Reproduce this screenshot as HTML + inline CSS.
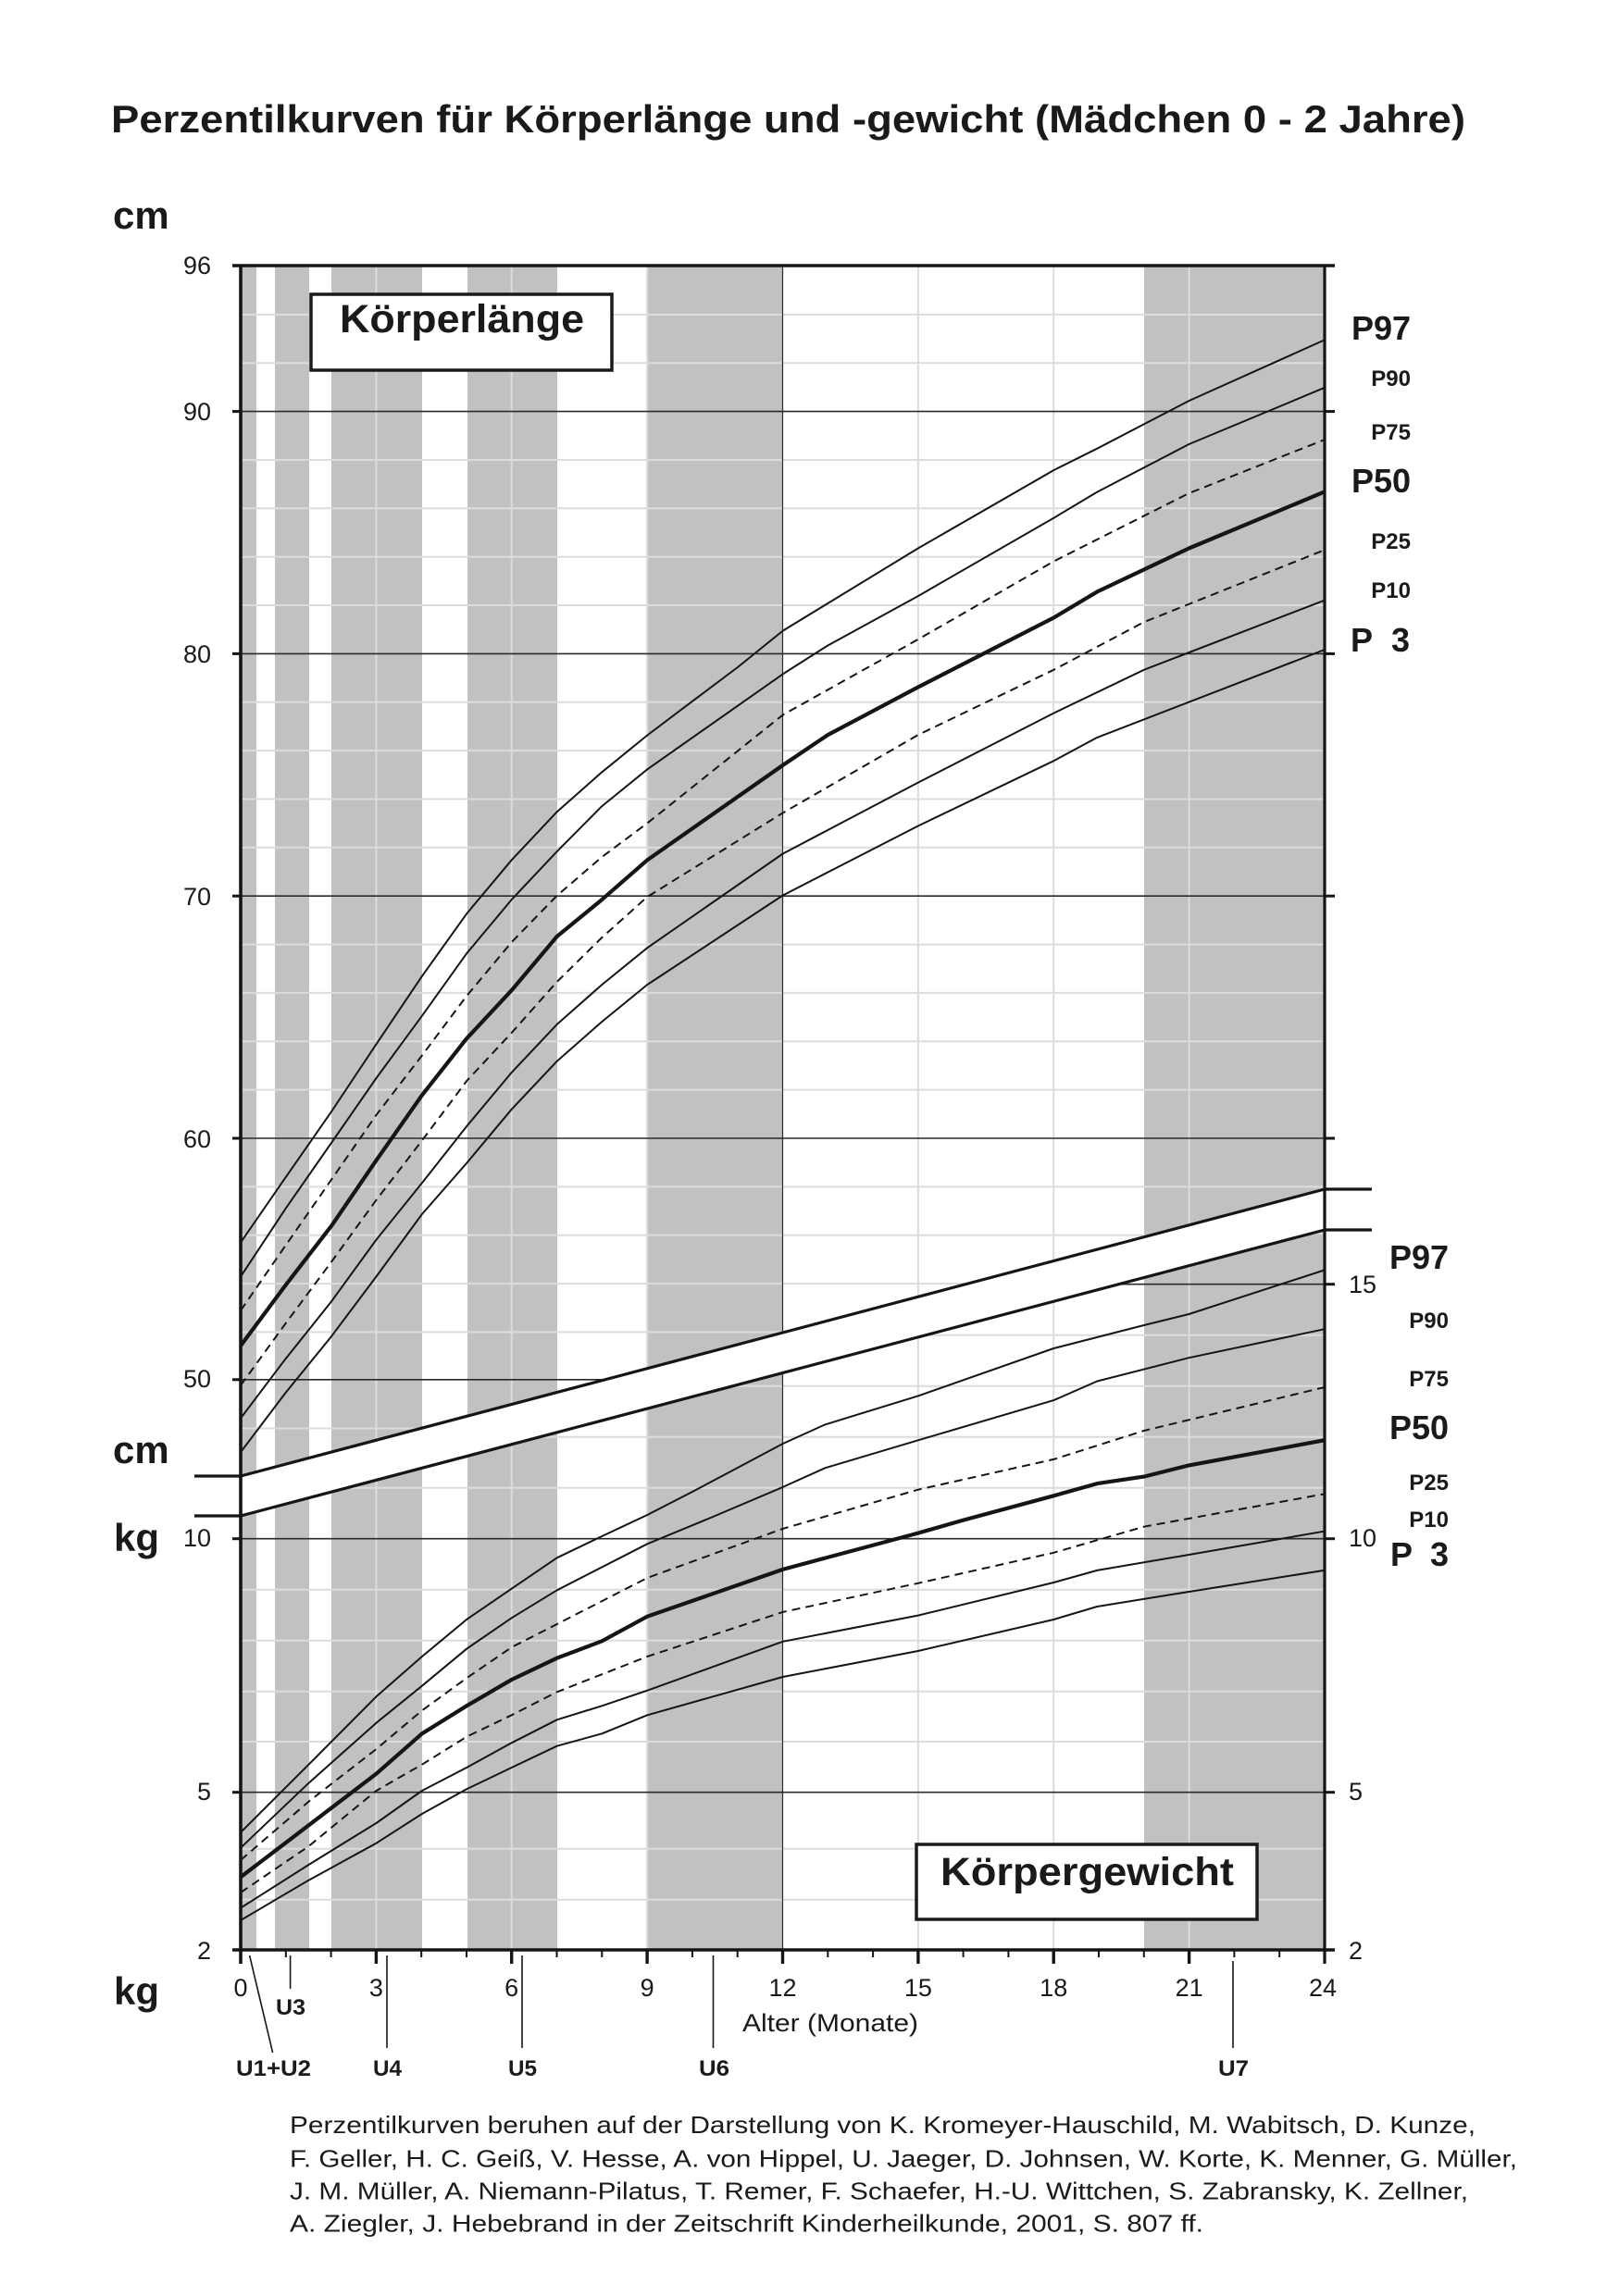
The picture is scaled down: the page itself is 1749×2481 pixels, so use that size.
<!DOCTYPE html>
<html>
<head>
<meta charset="utf-8">
<style>
html,body{margin:0;padding:0;background:#fff;}
svg{display:block;}
text{font-family:"Liberation Sans", Arial, sans-serif;fill:#1a1a1a;}
.b{font-weight:bold;}
</style>
</head>
<body>
<svg width="1749" height="2481" viewBox="0 0 1749 2481" xmlns="http://www.w3.org/2000/svg">
<defs>
<clipPath id="cmc"><polygon points="260,287 1431,287 1431,1285 260,1595"/></clipPath>
<clipPath id="kgc"><polygon points="260,1638 1431,1329 1431,2107 260,2107"/></clipPath>
</defs>
<rect x="0" y="0" width="1749" height="2481" fill="#fff"/>

<!-- Title -->
<text class="b" x="120" y="143" font-size="42" textLength="1463" lengthAdjust="spacingAndGlyphs">Perzentilkurven für Körperlänge und -gewicht (Mädchen 0 - 2 Jahre)</text>

<!-- gray bands -->
<g fill="#c1c1c2">
<rect x="260" y="287" width="17" height="1820"/>
<rect x="297" y="287" width="37" height="1820"/>
<rect x="358" y="287" width="98" height="1820"/>
<rect x="505" y="287" width="97" height="1820"/>
<rect x="699" y="287" width="146" height="1820"/>
<rect x="1236" y="287" width="195" height="1820"/>
</g>
<!-- white band between sections -->
<polygon points="260,1595 1431,1285 1431,1329 260,1638" fill="#fff"/>

<!-- light grid cm -->
<g clip-path="url(#cmc)" stroke="#dcdcdc" stroke-width="2">
<line x1="260" x2="1431" y1="339.9" y2="339.9"/>
<line x1="260" x2="1431" y1="392.2" y2="392.2"/>
<line x1="260" x2="1431" y1="497.0" y2="497.0"/>
<line x1="260" x2="1431" y1="549.3" y2="549.3"/>
<line x1="260" x2="1431" y1="601.7" y2="601.7"/>
<line x1="260" x2="1431" y1="654.0" y2="654.0"/>
<line x1="260" x2="1431" y1="758.8" y2="758.8"/>
<line x1="260" x2="1431" y1="811.1" y2="811.1"/>
<line x1="260" x2="1431" y1="863.5" y2="863.5"/>
<line x1="260" x2="1431" y1="915.8" y2="915.8"/>
<line x1="260" x2="1431" y1="1020.6" y2="1020.6"/>
<line x1="260" x2="1431" y1="1072.9" y2="1072.9"/>
<line x1="260" x2="1431" y1="1125.3" y2="1125.3"/>
<line x1="260" x2="1431" y1="1177.6" y2="1177.6"/>
<line x1="260" x2="1431" y1="1282.4" y2="1282.4"/>
<line x1="260" x2="1431" y1="1334.7" y2="1334.7"/>
<line x1="260" x2="1431" y1="1387.1" y2="1387.1"/>
<line x1="260" x2="1431" y1="1439.4" y2="1439.4"/>
<line x1="260" x2="1431" y1="1543.5" y2="1543.5"/>
<line x1="406.4" x2="406.4" y1="287" y2="1600"/>
<line x1="552.7" x2="552.7" y1="287" y2="1600"/>
<line x1="699.1" x2="699.1" y1="287" y2="1600"/>
<line x1="991.9" x2="991.9" y1="287" y2="1600"/>
<line x1="1138.2" x2="1138.2" y1="287" y2="1600"/>
<line x1="1284.6" x2="1284.6" y1="287" y2="1600"/>
</g>
<!-- light grid kg -->
<g clip-path="url(#kgc)" stroke="#dcdcdc" stroke-width="2">
<line x1="260" x2="1431" y1="1332.7" y2="1332.7"/>
<line x1="260" x2="1431" y1="1442.7" y2="1442.7"/>
<line x1="260" x2="1431" y1="1497.7" y2="1497.7"/>
<line x1="260" x2="1431" y1="1552.7" y2="1552.7"/>
<line x1="260" x2="1431" y1="1607.7" y2="1607.7"/>
<line x1="260" x2="1431" y1="1717.7" y2="1717.7"/>
<line x1="260" x2="1431" y1="1772.7" y2="1772.7"/>
<line x1="260" x2="1431" y1="1827.7" y2="1827.7"/>
<line x1="260" x2="1431" y1="1882.0" y2="1882.0"/>
<line x1="260" x2="1431" y1="1997.7" y2="1997.7"/>
<line x1="260" x2="1431" y1="2052.7" y2="2052.7"/>
<line x1="406.4" x2="406.4" y1="1300" y2="2107"/>
<line x1="552.7" x2="552.7" y1="1300" y2="2107"/>
<line x1="699.1" x2="699.1" y1="1300" y2="2107"/>
<line x1="991.9" x2="991.9" y1="1300" y2="2107"/>
<line x1="1138.2" x2="1138.2" y1="1300" y2="2107"/>
<line x1="1284.6" x2="1284.6" y1="1300" y2="2107"/>
</g>

<!-- dark grid -->
<g clip-path="url(#cmc)" stroke="#2a2a2a" stroke-width="1.6">
<line x1="260" x2="1431" y1="444.6" y2="444.6"/>
<line x1="260" x2="1431" y1="706.4" y2="706.4"/>
<line x1="260" x2="1431" y1="968.2" y2="968.2"/>
<line x1="260" x2="1431" y1="1230.0" y2="1230.0"/>
<line x1="260" x2="1431" y1="1490.8" y2="1490.8"/>
<line x1="845.5" x2="845.5" y1="287" y2="1600" stroke-width="1.2"/>
</g>
<g clip-path="url(#kgc)" stroke="#2a2a2a" stroke-width="1.6">
<line x1="260" x2="1431" y1="1387.7" y2="1387.7"/>
<line x1="260" x2="1431" y1="1662.7" y2="1662.7"/>
<line x1="260" x2="1431" y1="1936.7" y2="1936.7"/>
<line x1="845.5" x2="845.5" y1="1300" y2="2107" stroke-width="1.2"/>
</g>

<!-- label boxes -->
<rect x="336" y="318" width="325" height="82" fill="#fff" stroke="#1a1a1a" stroke-width="3.5"/>
<text class="b" x="367" y="359" font-size="43" textLength="264" lengthAdjust="spacingAndGlyphs">Körperlänge</text>
<rect x="990" y="1993" width="368" height="81" fill="#fff" stroke="#1a1a1a" stroke-width="3.5"/>
<text class="b" x="1016" y="2037" font-size="43" textLength="317" lengthAdjust="spacingAndGlyphs">Körpergewicht</text>

<!-- length curves -->
<g clip-path="url(#cmc)" fill="none" stroke="#151515" stroke-linejoin="round">
<polyline stroke-width="2" points="260,1342.6 308.6,1272.2 357.6,1201.8 406.5,1128.3 455.9,1054.8 504.1,987.4 552.7,929.3 601.7,877.2 650.3,834.3 699.3,794.5 747.9,757.8 796.9,721.0 845.7,681.6 991.8,592.5 1138.3,508.1 1185.3,484.7 1235.8,458.4 1284.4,433.1 1430.5,367.5"/>
<polyline stroke-width="2" points="260,1379.4 308.6,1305.9 357.6,1235.5 406.5,1165.0 455.9,1097.7 504.1,1030.3 552.7,972.1 601.7,920.1 650.3,871.1 699.3,831.3 845.7,728.4 894.3,697.5 991.8,644.1 1138.3,559.7 1185.3,531.6 1284.4,480.0 1430.5,419.1"/>
<polyline stroke-width="2" stroke-dasharray="9,6" points="260,1416.1 308.6,1345.7 357.6,1275.3 406.5,1204.8 455.9,1140.5 504.1,1076.2 552.7,1018.1 601.7,967.8 650.3,926 699.3,889.5 845.7,772.5 991.8,690.9 1138.3,606.6 1284.4,533 1430.5,475.3"/>
<polyline stroke-width="4.2" points="260,1454.1 308.6,1388.6 358.3,1324.3 406.5,1253.8 455.9,1183.4 504.1,1122.2 552.7,1070.1 601.7,1011.9 650.3,972.1 699.3,929.3 845.7,826.9 894.3,794.1 991.8,742.5 1138.3,667.5 1185.3,639.4 1284.4,592.5 1430.5,531.6"/>
<polyline stroke-width="2" stroke-dasharray="9,6" points="260,1497.0 308.6,1430 357.6,1364.1 406.5,1296.7 455.9,1232.4 504.1,1168.1 552.7,1116.0 601.7,1060.9 650.3,1013 699.3,969.1 845.7,878.4 991.8,794.1 1138.3,723.8 1235.8,672.2 1430.5,594.4"/>
<polyline stroke-width="2" points="260,1532.5 308.6,1468.2 357.6,1406.9 406.5,1339.6 455.9,1278.3 504.1,1217.1 552.7,1158.9 601.7,1106.9 650.3,1064 699.3,1024.2 845.7,922.5 991.8,845.6 1138.3,770.6 1235.8,723.8 1430.5,648.8"/>
<polyline stroke-width="2" points="260,1569.2 308.6,1504.9 358.3,1443.7 406.5,1379.4 455.9,1312.0 504.1,1256.9 552.7,1198.7 601.7,1146.7 650.3,1104 699.3,1064.0 845.7,967.5 991.8,892.5 1138.3,822.2 1185.3,796.9 1430.5,702.2"/>
</g>

<!-- weight curves -->
<g clip-path="url(#kgc)" fill="none" stroke="#151515" stroke-linejoin="round">
<polyline stroke-width="2" points="260,1980 333.5,1906.7 406.5,1833.3 455.9,1790 504.1,1750 552.7,1716.7 601.7,1683.3 650.3,1660 699.3,1637 747.9,1612 796.9,1586 845.7,1560 891.2,1539.4 991.8,1508.4 1138.3,1457 1235.8,1432 1284.4,1420 1430.5,1372.5"/>
<polyline stroke-width="2" points="260,1996.7 333.5,1926.7 406.5,1861.7 455.9,1821.7 504.1,1781.7 552.7,1748.3 601.7,1718.3 699.3,1668.3 767.8,1640 845.7,1606.9 891.2,1586.3 991.8,1556.3 1138.3,1513.1 1185.3,1492.5 1284.4,1467.2 1430.5,1436.3"/>
<polyline stroke-width="2" stroke-dasharray="9,6" points="260,2010 333.5,1946.7 406.5,1890 455.9,1848.3 504.1,1813.3 552.7,1780 601.7,1755 699.3,1705 845.7,1651.9 991.8,1609.7 1138.3,1576.9 1235.8,1546 1430.5,1499.1"/>
<polyline stroke-width="4.2" points="260,2028.3 308.6,1991.3 357.6,1953.9 406.5,1916.7 455.9,1873.3 504.1,1843.3 552.7,1815 601.7,1791.7 650.3,1773.3 699.3,1746.7 845.7,1695.9 991.8,1656.6 1041.1,1642.5 1138.3,1616.3 1185.3,1603.1 1235.8,1595.6 1284.4,1583.4 1430.5,1556.3"/>
<polyline stroke-width="2" stroke-dasharray="9,6" points="260,2045 333.5,1995 406.5,1935 455.9,1906.7 504.1,1876.7 552.7,1853.3 601.7,1828.3 699.3,1790 845.7,1741.9 991.8,1710.8 1138.3,1677.8 1235.8,1649.7 1430.5,1614.4"/>
<polyline stroke-width="2" points="260,2061.7 333.5,2015 406.5,1970 455.9,1935 504.1,1910 552.7,1883.3 601.7,1858.3 650.3,1843.3 699.3,1826.7 845.7,1773.8 991.8,1745.6 1138.3,1710 1185.3,1696.9 1284.4,1680 1430.5,1654.7"/>
<polyline stroke-width="2" points="260,2075 333.5,2031.7 406.5,1991.7 455.9,1960 504.1,1933.3 552.7,1910 601.7,1886.7 650.3,1873.3 699.3,1853.3 845.7,1812 991.8,1784 1138.3,1750 1185.3,1736 1284.4,1720 1430.5,1696.9"/>
</g>

<!-- separating diagonals and stubs -->
<g stroke="#151515" stroke-width="3.2" fill="none">
<line x1="260" y1="1595" x2="1431" y2="1285"/>
<line x1="260" y1="1638" x2="1431" y2="1329"/>
<line x1="210" y1="1595" x2="260" y2="1595"/>
<line x1="210" y1="1638" x2="260" y2="1638"/>
<line x1="1431" y1="1285" x2="1482" y2="1285"/>
<line x1="1431" y1="1329" x2="1482" y2="1329"/>
</g>

<!-- axes -->
<g stroke="#151515" fill="none">
<line x1="251" y1="287" x2="1442" y2="287" stroke-width="3.6"/>
<line x1="251" y1="2107" x2="1442" y2="2107" stroke-width="3.6"/>
<line x1="260" y1="285.5" x2="260" y2="2122" stroke-width="3.6"/>
<line x1="1431" y1="285.5" x2="1431" y2="2122" stroke-width="3.2"/>
<!-- left ticks -->
<g stroke-width="3">
<line x1="251" x2="260" y1="444.6" y2="444.6"/>
<line x1="251" x2="260" y1="706.4" y2="706.4"/>
<line x1="251" x2="260" y1="968.2" y2="968.2"/>
<line x1="251" x2="260" y1="1230.0" y2="1230.0"/>
<line x1="251" x2="260" y1="1490.8" y2="1490.8"/>
<line x1="251" x2="260" y1="1662.7" y2="1662.7"/>
<line x1="251" x2="260" y1="1936.7" y2="1936.7"/>
<!-- right ticks -->
<line x1="1431" x2="1442" y1="444.6" y2="444.6"/>
<line x1="1431" x2="1442" y1="706.4" y2="706.4"/>
<line x1="1431" x2="1442" y1="968.2" y2="968.2"/>
<line x1="1431" x2="1442" y1="1230.0" y2="1230.0"/>
<line x1="1431" x2="1442" y1="1387.7" y2="1387.7"/>
<line x1="1431" x2="1442" y1="1662.7" y2="1662.7"/>
<line x1="1431" x2="1442" y1="1936.7" y2="1936.7"/>
</g>
<!-- bottom major ticks -->
<g stroke-width="3.4">
<line x1="406.4" x2="406.4" y1="2107" y2="2122"/>
<line x1="552.7" x2="552.7" y1="2107" y2="2122"/>
<line x1="699.1" x2="699.1" y1="2107" y2="2122"/>
<line x1="845.5" x2="845.5" y1="2107" y2="2122"/>
<line x1="991.9" x2="991.9" y1="2107" y2="2122"/>
<line x1="1138.2" x2="1138.2" y1="2107" y2="2122"/>
<line x1="1284.6" x2="1284.6" y1="2107" y2="2122"/>
</g>
<!-- bottom minor ticks -->
<g stroke-width="2">
<line x1="308.8" x2="308.8" y1="2107" y2="2115"/>
<line x1="357.6" x2="357.6" y1="2107" y2="2115"/>
<line x1="455.2" x2="455.2" y1="2107" y2="2115"/>
<line x1="504.0" x2="504.0" y1="2107" y2="2115"/>
<line x1="601.5" x2="601.5" y1="2107" y2="2115"/>
<line x1="650.3" x2="650.3" y1="2107" y2="2115"/>
<line x1="747.9" x2="747.9" y1="2107" y2="2115"/>
<line x1="796.7" x2="796.7" y1="2107" y2="2115"/>
<line x1="894.3" x2="894.3" y1="2107" y2="2115"/>
<line x1="943.1" x2="943.1" y1="2107" y2="2115"/>
<line x1="1040.6" x2="1040.6" y1="2107" y2="2115"/>
<line x1="1089.4" x2="1089.4" y1="2107" y2="2115"/>
<line x1="1187.0" x2="1187.0" y1="2107" y2="2115"/>
<line x1="1235.8" x2="1235.8" y1="2107" y2="2115"/>
<line x1="1333.4" x2="1333.4" y1="2107" y2="2115"/>
<line x1="1382.2" x2="1382.2" y1="2107" y2="2115"/>
</g>
<!-- U pointers -->
<g stroke-width="1.6">
<line x1="269.6" y1="2113" x2="294.6" y2="2218"/>
<line x1="313.6" y1="2113" x2="313.6" y2="2149"/>
<line x1="418" y1="2113" x2="418" y2="2213"/>
<line x1="564" y1="2113" x2="564" y2="2213"/>
<line x1="770.5" y1="2113" x2="770.5" y2="2213"/>
<line x1="1332" y1="2119" x2="1332" y2="2213"/>
</g>
</g>

<!-- unit labels -->
<text class="b" x="122" y="247" font-size="42">cm</text>
<text class="b" x="122" y="1581" font-size="42">cm</text>
<text class="b" x="123" y="1676" font-size="42">kg</text>
<text class="b" x="123" y="2166" font-size="42">kg</text>

<!-- left axis labels -->
<g font-size="27" text-anchor="end" fill="#1a1a1a">
<text x="228" y="296">96</text>
<text x="228" y="454">90</text>
<text x="228" y="716">80</text>
<text x="228" y="978">70</text>
<text x="228" y="1240">60</text>
<text x="228" y="1499">50</text>
<text x="228" y="1671">10</text>
<text x="228" y="1945">5</text>
<text x="228" y="2117">2</text>
</g>
<!-- right kg labels -->
<g font-size="27">
<text x="1457" y="1397">15</text>
<text x="1457" y="1671">10</text>
<text x="1457" y="1945">5</text>
<text x="1457" y="2117">2</text>
</g>

<!-- percentile labels length -->
<g class="b" text-anchor="end">
<text class="b" x="1524" y="367" font-size="36">P97</text>
<text class="b" x="1524" y="417" font-size="24">P90</text>
<text class="b" x="1524" y="475" font-size="24">P75</text>
<text class="b" x="1524" y="532" font-size="36">P50</text>
<text class="b" x="1524" y="593" font-size="24">P25</text>
<text class="b" x="1524" y="646" font-size="24">P10</text>
</g>
<text class="b" y="704" font-size="36"><tspan x="1459">P</tspan><tspan x="1503">3</tspan></text>

<!-- percentile labels weight -->
<g text-anchor="end">
<text class="b" x="1565" y="1371" font-size="36">P97</text>
<text class="b" x="1565" y="1435" font-size="24">P90</text>
<text class="b" x="1565" y="1498" font-size="24">P75</text>
<text class="b" x="1565" y="1555" font-size="36">P50</text>
<text class="b" x="1565" y="1610" font-size="24">P25</text>
<text class="b" x="1565" y="1650" font-size="24">P10</text>
</g>
<text class="b" y="1692" font-size="36"><tspan x="1502">P</tspan><tspan x="1545">3</tspan></text>

<!-- month labels -->
<g font-size="27" text-anchor="middle">
<text x="260" y="2157">0</text>
<text x="406.4" y="2157">3</text>
<text x="552.7" y="2157">6</text>
<text x="699.1" y="2157">9</text>
<text x="845.5" y="2157">12</text>
<text x="991.9" y="2157">15</text>
<text x="1138.2" y="2157">18</text>
<text x="1284.6" y="2157">21</text>
<text x="1429" y="2157">24</text>
</g>
<text x="802" y="2195" font-size="27" textLength="190" lengthAdjust="spacingAndGlyphs">Alter (Monate)</text>

<!-- U labels -->
<g class="b" font-size="24">
<text class="b" x="298" y="2177" textLength="32" lengthAdjust="spacingAndGlyphs">U3</text>
<text class="b" x="255" y="2243" textLength="81" lengthAdjust="spacingAndGlyphs">U1+U2</text>
<text class="b" x="403" y="2243" textLength="31" lengthAdjust="spacingAndGlyphs">U4</text>
<text class="b" x="549" y="2243" textLength="31" lengthAdjust="spacingAndGlyphs">U5</text>
<text class="b" x="755" y="2243" textLength="33" lengthAdjust="spacingAndGlyphs">U6</text>
<text class="b" x="1316" y="2243" textLength="33" lengthAdjust="spacingAndGlyphs">U7</text>
</g>

<!-- footnote -->
<g font-size="26">
<text x="313" y="2305" textLength="1281" lengthAdjust="spacingAndGlyphs">Perzentilkurven beruhen auf der Darstellung von K. Kromeyer-Hauschild, M. Wabitsch, D. Kunze,</text>
<text x="313" y="2341.5" textLength="1326" lengthAdjust="spacingAndGlyphs">F. Geller, H. C. Geiß, V. Hesse, A. von Hippel, U. Jaeger, D. Johnsen, W. Korte, K. Menner, G. Müller,</text>
<text x="313" y="2376.5" textLength="1273" lengthAdjust="spacingAndGlyphs">J. M. Müller, A. Niemann-Pilatus, T. Remer, F. Schaefer, H.-U. Wittchen, S. Zabransky, K. Zellner,</text>
<text x="313" y="2411.5" textLength="987" lengthAdjust="spacingAndGlyphs">A. Ziegler, J. Hebebrand in der Zeitschrift Kinderheilkunde, 2001, S. 807 ff.</text>
</g>
</svg>
</body>
</html>
